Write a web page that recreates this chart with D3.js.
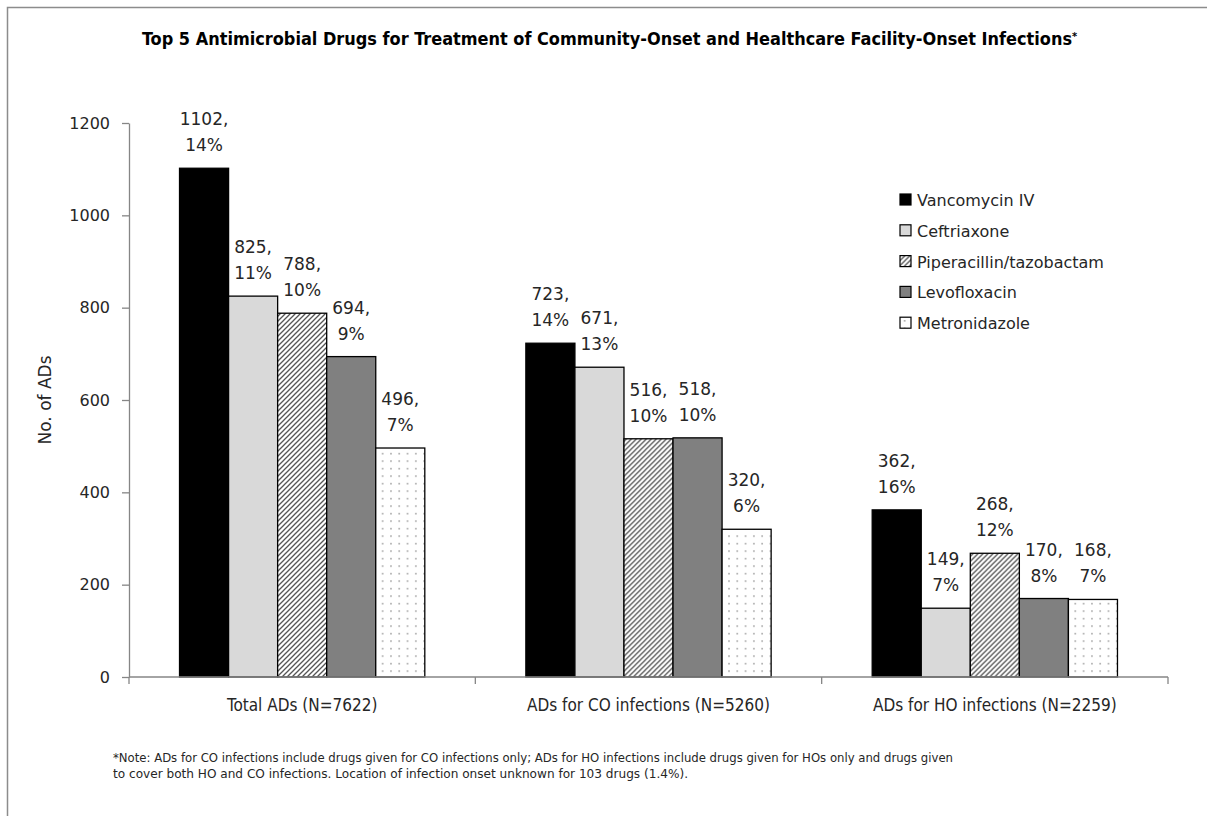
<!DOCTYPE html>
<html>
<head>
<meta charset="utf-8">
<script src="https://d3js.org/d3.v7.min.js"></script>
<style>
  body { margin: 0; background: #fff; }
  svg text { font-family: "DejaVu Sans", Verdana, sans-serif; fill: #262626; }
  svg text.narrow { font-family: "Liberation Sans Narrow", "DejaVu Sans Condensed", "Liberation Sans", sans-serif; }
</style>
</head>
<body>
<div id="chart"></div>
<script>
// categories on the x axis
const categories = ["Total ADs (N=7622)", "ADs for CO infections (N=5260)", "ADs for HO infections (N=2259)"];

// the five drugs (series)
const drugs = ["Vancomycin IV", "Ceftriaxone", "Piperacillin/tazobactam", "Levofloxacin", "Metronidazole"];

// counts per category for each drug
const vancomycinIV = [1102, 723, 362];
const ceftriaxone = [825, 671, 149];
const piperacillin = [788, 516, 268];
const levofloxacin = [694, 518, 170];
const metronidazole = [496, 320, 168];

// percent of ADs per category for each drug
const vancomycinIVPct = [14, 14, 16];
const ceftriaxonePct = [11, 13, 7];
const piperacillinPct = [10, 10, 12];
const levofloxacinPct = [9, 10, 8];
const metronidazolePct = [7, 6, 7];

const yTicks = [0, 200, 400, 600, 800, 1000, 1200];

const title = "Top 5 Antimicrobial Drugs for Treatment of Community-Onset and Healthcare Facility-Onset Infections";
const noteLines = [
  "*Note: ADs for CO infections include drugs given for CO infections only; ADs for HO infections include drugs given for HOs only and drugs given",
  "to cover both HO and CO infections. Location of infection onset unknown for 103 drugs (1.4%)."
];

const countsByDrug = [vancomycinIV, ceftriaxone, piperacillin, levofloxacin, metronidazole];
const pctByDrug = [vancomycinIVPct, ceftriaxonePct, piperacillinPct, levofloxacinPct, metronidazolePct];

// flat rows: {cat, drug, value, pct}
const rows = [];
categories.forEach((cat, ci) => {
  drugs.forEach((drug, di) => {
    rows.push({ cat: cat, drug: drug, value: countsByDrug[di][ci], pct: pctByDrug[di][ci] });
  });
});

const W = 1207, H = 816;
const plot = { left: 129, right: 1168, top: 123, bottom: 677 };

const svg = d3.select("#chart").append("svg")
  .attr("width", W)
  .attr("height", H);

// fill patterns
const defs = svg.append("defs");
const hatch = defs.append("pattern")
  .attr("id", "hatch")
  .attr("patternUnits", "userSpaceOnUse")
  .attr("width", 5)
  .attr("height", 5);
hatch.append("rect").attr("width", 5).attr("height", 5).attr("fill", "#fff");
hatch.append("path")
  .attr("d", "M0,5 L5,0 M-1,1 L1,-1 M4,6 L6,4")
  .attr("stroke", "#555")
  .attr("stroke-width", 1.3);

const dots = defs.append("pattern")
  .attr("id", "dots")
  .attr("patternUnits", "userSpaceOnUse")
  .attr("width", 8.3)
  .attr("height", 7.5);
dots.append("rect").attr("width", 8.3).attr("height", 7.5).attr("fill", "#fff");
dots.append("rect").attr("x", 4).attr("y", 3).attr("width", 1.3).attr("height", 1.3).attr("fill", "#777");

const fills = ["#000000", "#d9d9d9", "url(#hatch)", "#808080", "url(#dots)"];
const color = d3.scaleOrdinal().domain(drugs).range(fills);

// chart frame
svg.append("rect")
  .attr("x", 7.5).attr("y", 7.5)
  .attr("width", W + 20).attr("height", H + 20)
  .attr("fill", "none")
  .attr("stroke", "#8c8c8c")
  .attr("stroke-width", 1.5);

// title
const t = svg.append("text")
  .attr("class", "narrow")
  .attr("x", 142)
  .attr("y", 45)
  .style("font-size", "17px")
  .style("font-weight", "bold")
  .style("fill", "#000");
t.append("tspan")
  .attr("textLength", 930)
  .attr("lengthAdjust", "spacingAndGlyphs")
  .text(title);
t.append("tspan").attr("dy", -5).style("font-size", "11px").text("*");

// scales
const x0 = d3.scaleBand()
  .domain(categories)
  .range([plot.left, plot.right])
  .padding(0);

const x1 = d3.scaleBand()
  .domain(drugs)
  .range([0, x0.bandwidth()])
  .paddingInner(0)
  .paddingOuter(1.03);

const y = d3.scaleLinear()
  .domain([0, 1200])
  .range([plot.bottom, plot.top]);

// y axis
const gy = svg.append("g")
  .attr("transform", `translate(${plot.left},0)`)
  .call(d3.axisLeft(y).tickValues(yTicks).tickFormat(d3.format("d")).tickSize(7).tickSizeOuter(0).tickPadding(12));
gy.select(".domain").attr("stroke", "#868686").attr("stroke-width", 1.3);
gy.selectAll(".tick line").attr("stroke", "#868686").attr("stroke-width", 1.3);
gy.selectAll(".tick text")
  .style("font-size", "16px")
  .style("font-family", "'DejaVu Sans', sans-serif")
  .attr("fill", "#262626");

// y axis title
svg.append("text")
  .attr("transform", `translate(51, ${(plot.top + plot.bottom) / 2}) rotate(-90)`)
  .attr("text-anchor", "middle")
  .style("font-size", "17px")
  .text("No. of ADs");

// bars
const groups = svg.selectAll(".grp")
  .data(categories)
  .enter()
  .append("g")
  .attr("class", "grp")
  .attr("transform", d => `translate(${x0(d)},0)`);

groups.selectAll("rect")
  .data(cat => rows.filter(r => r.cat === cat))
  .enter()
  .append("rect")
  .attr("x", d => x1(d.drug))
  .attr("y", d => y(d.value))
  .attr("width", x1.bandwidth())
  .attr("height", d => y(0) - y(d.value))
  .attr("fill", d => color(d.drug))
  .attr("stroke", "#000")
  .attr("stroke-width", 1.3);

// data labels: "value," / "pct%"
const labels = groups.selectAll(".lbl")
  .data(cat => rows.filter(r => r.cat === cat))
  .enter()
  .append("text")
  .attr("class", "lbl")
  .attr("text-anchor", "middle")
  .style("font-size", "17px");
labels.append("tspan")
  .attr("x", d => x1(d.drug) + x1.bandwidth() / 2)
  .attr("y", d => y(d.value) - 43)
  .text(d => d.value + ",");
labels.append("tspan")
  .attr("x", d => x1(d.drug) + x1.bandwidth() / 2)
  .attr("y", d => y(d.value) - 17)
  .text(d => d.pct + "%");

// x axis (Excel style: ticks on category boundaries)
const boundaries = categories.map(c => x0(c)).concat([x0.range()[1]]);
const gx = svg.append("g");
gx.append("line")
  .attr("x1", plot.left).attr("x2", plot.right)
  .attr("y1", y(0)).attr("y2", y(0))
  .attr("stroke", "#868686").attr("stroke-width", 1.3);
gx.selectAll(".xt")
  .data(boundaries)
  .enter()
  .append("line")
  .attr("x1", d => d).attr("x2", d => d)
  .attr("y1", y(0)).attr("y2", y(0) + 7)
  .attr("stroke", "#868686").attr("stroke-width", 1.3);
gx.selectAll(".cat")
  .data(categories)
  .enter()
  .append("text")
  .attr("class", "narrow")
  .attr("x", d => x0(d) + x0.bandwidth() / 2)
  .attr("y", 711)
  .attr("text-anchor", "middle")
  .style("font-size", "17px")
  .text(d => d);

// legend
const legend = svg.append("g")
  .attr("transform", "translate(900, 194)");
const li = legend.selectAll(".li")
  .data(drugs)
  .enter()
  .append("g")
  .attr("transform", (d, i) => `translate(0, ${i * 30.8})`);
li.append("rect")
  .attr("width", 11).attr("height", 11)
  .attr("fill", d => color(d))
  .attr("stroke", "#000")
  .attr("stroke-width", 1.2);
li.append("text")
  .attr("x", 17)
  .attr("y", 12)
  .style("font-size", "16px")
  .text(d => d);

// footnote
const noteWidths = [840, 575];
svg.selectAll(".note")
  .data(noteLines)
  .enter()
  .append("text")
  .attr("class", "narrow")
  .attr("x", 113)
  .attr("y", (d, i) => 762 + i * 16)
  .attr("textLength", (d, i) => noteWidths[i])
  .attr("lengthAdjust", "spacingAndGlyphs")
  .style("font-size", "12px")
  .text(d => d);
</script>
</body>
</html>
